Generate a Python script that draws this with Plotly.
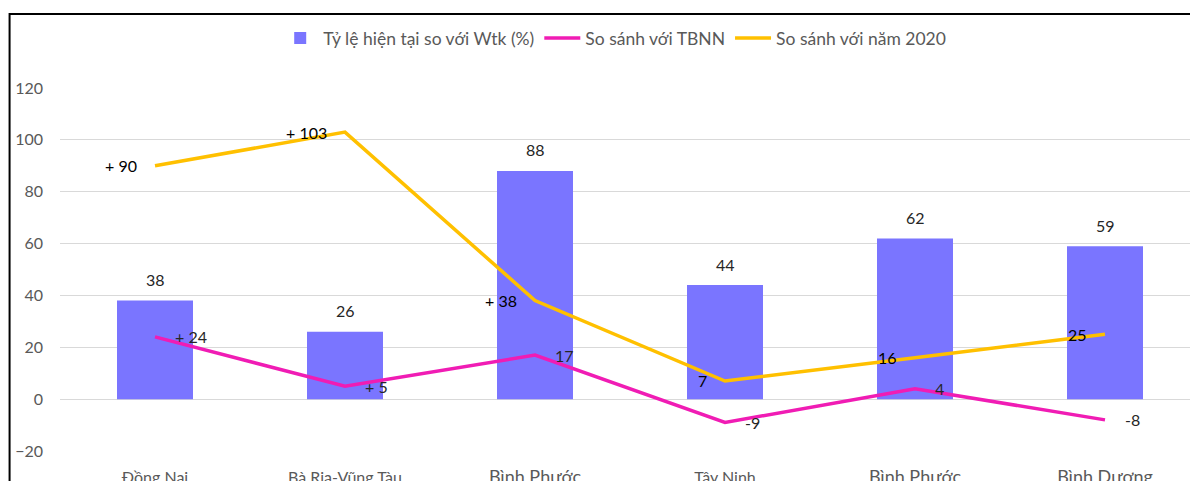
import plotly.graph_objects as go

categories = ["Đồng Nai", "Bà Rịa-Vũng Tàu", "Bình Phước", "Tây Ninh", "Bình Phước", "Bình Dương"]
ratio_wtk = [38, 26, 88, 44, 62, 59]
vs_tbnn = [24, 5, 17, -9, 4, -8]
vs_tbnn_labels = ["+ 24", "+ 5", "17", "-9", "4", "-8"]
vs_2020 = [90, 103, 38, 7, 16, 25]
vs_2020_labels = ["+ 90", "+ 103", "+ 38", "7", "16", "25"]
y_ticks = [-20, 0, 20, 40, 60, 80, 100, 120]

series_names = ["Tỷ lệ hiện tại so với Wtk (%)", "So sánh với TBNN", "So sánh với năm 2020"]

# styling
BAR_COLOR = "#7A75FF"
PINK = "#F01CB4"
YELLOW = "#FFC000"
FONT = "Lato"
tick_sizes = [16, 16, 18, 16, 18, 18]

x = list(range(len(categories)))
ticktext = [f'<span style="font-size:{s}px">{c}</span>' for c, s in zip(categories, tick_sizes)]

fig = go.Figure()
fig.add_trace(go.Bar(x=x, y=ratio_wtk, name=series_names[0], marker_color=BAR_COLOR,
                     marker_line_width=0, width=0.4))
fig.add_trace(go.Scatter(x=x, y=vs_tbnn, name=series_names[1], mode="lines",
                         line=dict(color=PINK, width=3.5)))
fig.add_trace(go.Scatter(x=x, y=vs_2020, name=series_names[2], mode="lines",
                         line=dict(color=YELLOW, width=3.5)))

annotations = []
for xi, v in zip(x, ratio_wtk):
    annotations.append(dict(x=xi, y=v, text=str(v), showarrow=False, yshift=21,
                            font=dict(family=FONT, size=16, color="#262626")))
for xi, v, t in zip(x, vs_tbnn, vs_tbnn_labels):
    annotations.append(dict(x=xi, y=v, text=t, showarrow=False, xanchor="left", xshift=18,
                            font=dict(family=FONT, size=16, color="#262626")))
for xi, v, t in zip(x, vs_2020, vs_2020_labels):
    annotations.append(dict(x=xi, y=v, text=t, showarrow=False, xanchor="right", xshift=-16,
                            font=dict(family=FONT, size=16, color="#000000")))

fig.update_layout(
    width=1198, height=481,
    margin=dict(l=51.5, r=0, t=80, b=38),
    paper_bgcolor="white", plot_bgcolor="white",
    font=dict(family=FONT, size=16, color="#595959"),
    showlegend=True,
    legend=dict(orientation="h", x=0.4836, xanchor="center", y=1.1377, yanchor="middle",
                font=dict(family=FONT, size=17.5, color="#595959"), itemwidth=36,
                traceorder="normal"),
    xaxis=dict(range=[-0.5, 5.5316], tickmode="array", tickvals=x, ticktext=ticktext,
               showgrid=False, zeroline=False, showline=False, ticks="",
               ticklabelstandoff=15, tickfont=dict(family=FONT, size=16, color="#595959")),
    yaxis=dict(range=[-20, 120], tickmode="array", tickvals=y_ticks,
               showgrid=True, gridcolor="#D9D9D9", gridwidth=1,
               zeroline=True, zerolinecolor="#D9D9D9", zerolinewidth=1,
               showline=False, ticks="", ticklabelstandoff=16,
               tickfont=dict(family=FONT, size=16, color="#595959")),
    annotations=annotations,
    shapes=[dict(type="rect", xref="paper", yref="paper", x0=-0.044, x1=1.1, y0=-0.5, y1=1.2039,
                 line=dict(color="#000000", width=2), fillcolor="rgba(0,0,0,0)", layer="above")],
    bargap=0.6,
)

fig.write_html("out.html")
